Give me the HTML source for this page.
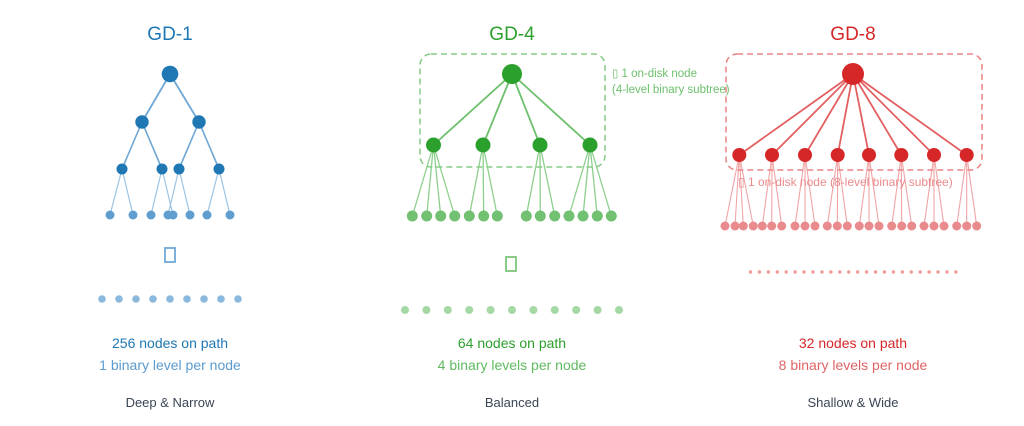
<!DOCTYPE html>
<html><head><meta charset="utf-8"><style>
html,body{margin:0;padding:0;background:#fff;width:1024px;height:426px;overflow:hidden}
svg{display:block}
text{font-family:"Liberation Sans",Helvetica,Arial,sans-serif}
</style></head><body>
<svg id="s" width="1024" height="426" viewBox="0 0 1024 426" xmlns="http://www.w3.org/2000/svg">
<g id="g"></g>
<text x="170" y="40" font-size="19" fill="#1f77b4" text-anchor="middle">GD-1</text>
<text x="512" y="40" font-size="19" fill="#2ca02c" text-anchor="middle">GD-4</text>
<text x="853" y="40" font-size="19" fill="#d62728" text-anchor="middle">GD-8</text>
<rect x="165" y="248" width="10" height="14" fill="none" stroke="#6fa8d6" stroke-width="1.8"/>
<rect x="506" y="257" width="10" height="14" fill="none" stroke="#7cc67c" stroke-width="1.8"/>
<rect x="420" y="54" width="185" height="113" rx="11" fill="none" stroke="#86cc86" stroke-width="1.5" stroke-dasharray="6,4"/>
<text x="612" y="77" font-size="11.5" fill="#6cc06c">▯ 1 on-disk node</text>
<text x="612" y="93" font-size="11.5" fill="#6cc06c">(4-level binary subtree)</text>
<rect x="726" y="54" width="256" height="116" rx="11" fill="none" stroke="#e98486" stroke-width="1.5" stroke-dasharray="6,4"/>
<text x="738" y="186" font-size="12" fill="#eb8a8c">▯ 1 on-disk node (8-level binary subtree)</text>
<text x="170" y="348" font-size="14" fill="#1f77b4" text-anchor="middle">256 nodes on path</text>
<text x="170" y="370" font-size="14" fill="#5a9bd0" text-anchor="middle">1 binary level per node</text>
<text x="170" y="407" font-size="13" fill="#3a4555" text-anchor="middle">Deep &amp; Narrow</text>
<text x="512" y="348" font-size="14" fill="#2ca02c" text-anchor="middle">64 nodes on path</text>
<text x="512" y="370" font-size="14" fill="#5fba5f" text-anchor="middle">4 binary levels per node</text>
<text x="512" y="407" font-size="13" fill="#3a4555" text-anchor="middle">Balanced</text>
<text x="853" y="348" font-size="14" fill="#d62728" text-anchor="middle">32 nodes on path</text>
<text x="853" y="370" font-size="14" fill="#e06466" text-anchor="middle">8 binary levels per node</text>
<text x="853" y="407" font-size="13" fill="#3a4555" text-anchor="middle">Shallow &amp; Wide</text>
</svg>
<script>
var g=document.getElementById('g'),N='http://www.w3.org/2000/svg';
function L(x1,y1,x2,y2,c,w){var e=document.createElementNS(N,'line');e.setAttribute('x1',x1);e.setAttribute('y1',y1);e.setAttribute('x2',x2);e.setAttribute('y2',y2);e.setAttribute('stroke',c);e.setAttribute('stroke-width',w);g.appendChild(e);}
function C(x,y,r,c){var e=document.createElementNS(N,'circle');e.setAttribute('cx',x);e.setAttribute('cy',y);e.setAttribute('r',r);e.setAttribute('fill',c);g.appendChild(e);}
// GD-1
var B='#1f77b4',Bl='#6fa8d6',Bll='#9cc4e4';
L(170,74,142,122,Bl,1.8);L(170,74,199,122,Bl,1.8);
var l3=[[142,122],[142,122],[199,122],[199,122]],x3=[122,162,179,219];
x3.forEach(function(x,i){L(l3[i][0],122,x,169,Bl,1.6);});
var lv=[[122,110],[122,133],[162,151],[162,173],[179,168],[179,190],[219,207],[219,230]];
lv.forEach(function(p){L(p[0],169,p[1],215,Bll,1.2);});
lv.forEach(function(p){C(p[1],215,4.5,'#5f9ecf');});
x3.forEach(function(x){C(x,169,5.5,B);});
C(142,122,6.7,B);C(199,122,6.7,B);C(170,74,8.3,B);
for(var i=0;i<9;i++)C(102+17*i,299,3.8,'#8bb9dd');
// GD-4
var G='#2ca02c',Gl='#6cc06c';
var p4=[433.5,483,540,590];
var c4=[[433.5,[412.3,426.7,440.7,454.7]],[483,[469.3,483.7,497.3]],[540,[526.3,540.3,554.7]],[590,[569,583,597.3,611.3]]];
p4.forEach(function(x){L(512,74,x,145,Gl,1.8);});
c4.forEach(function(p){p[1].forEach(function(x){L(p[0],145,x,216,'#8ccf8c',1.3);});});
c4.forEach(function(p){p[1].forEach(function(x){C(x,216,5.5,'#72c072');});});
p4.forEach(function(x){C(x,145,7.5,G);});
C(512,74,10,G);
for(var i=0;i<11;i++)C(405+21.4*i,310,4,'#a6d8a6');
// GD-8
var R='#d62728',Rl='#e35f61';
var p8=[739.3,772,805,837.7,869,901.3,934,966.7];
var lf=[725,735,743.3,753.3,762.3,771.7,781.7,795,805,815,827.3,837.3,847.3,859.3,869,879,891.7,901.7,911.7,924,934,944,956.7,966.7,976.7];
p8.forEach(function(x){L(853,74,x,155,Rl,1.8);});
lf.forEach(function(x,i){var pi=i<4?0:Math.floor((i-4)/3)+1;L(p8[pi],155,x,226,'#f0a5a6',1.1);});
lf.forEach(function(x){C(x,226,4.5,'#e98a8c');});
p8.forEach(function(x){C(x,155,7,R);});
C(853,74,11,R);
for(var i=0;i<24;i++)C(750.5+8.93*i,272,1.7,'#ef9a9b');
</script>
</body></html>
